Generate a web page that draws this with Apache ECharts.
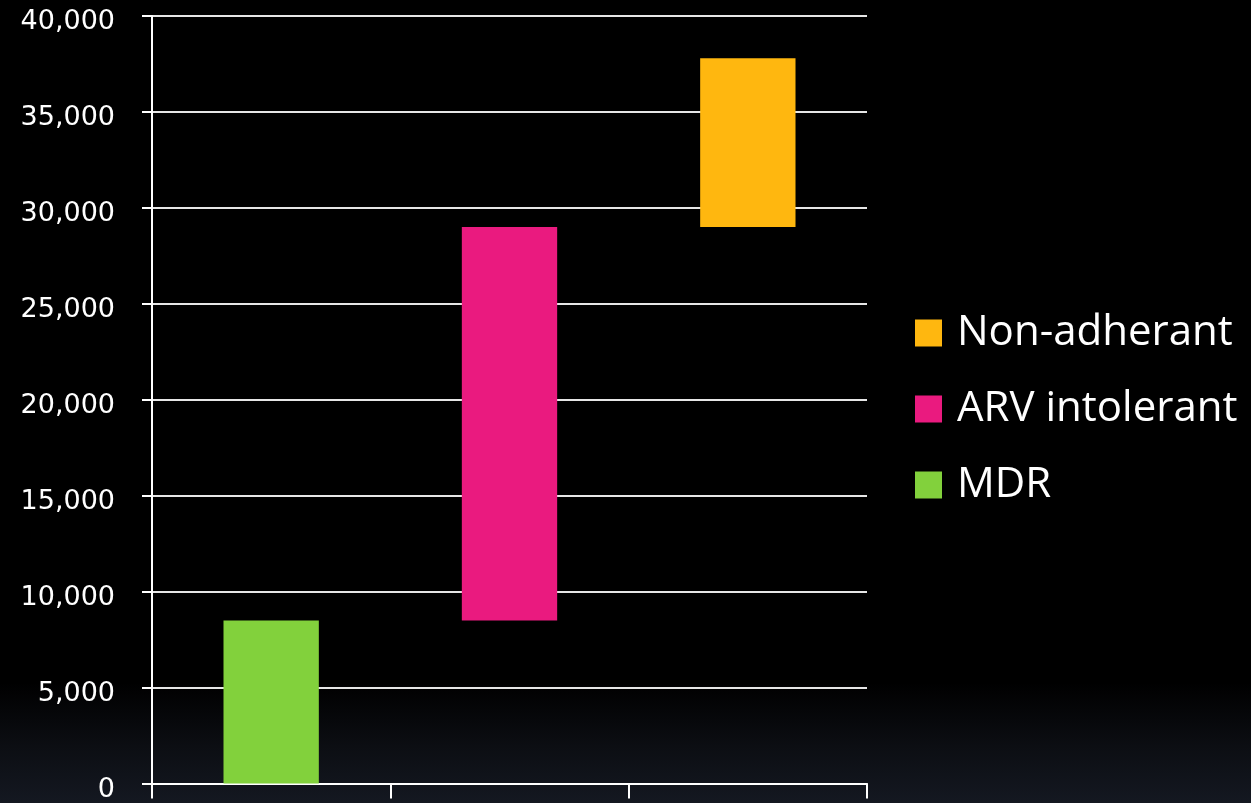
<!DOCTYPE html>
<html>
<head>
<meta charset="utf-8">
<style>
html,body{margin:0;padding:0;background:#000;}
#chart{width:1251px;height:803px;}
</style>
<script src="https://cdn.jsdelivr.net/npm/echarts@6/dist/echarts.min.js"></script>
</head>
<body>
<div id="chart"></div>
<script>
// Data
var categories = ['MDR', 'ARV intolerant', 'Non-adherant'];
var seriesNames = ['MDR', 'ARV intolerant', 'Non-adherant'];
var mdrValues = [8500, '-', '-'];
var arvValues = ['-', 20500, '-'];
var nonAdhValues = ['-', '-', 8800];
var baseValues = [0, 8500, 29000];
var yTicks = [0, 5000, 10000, 15000, 20000, 25000, 30000, 35000, 40000];
var legendOrder = ['Non-adherant', 'ARV intolerant', 'MDR'];

var colors = {'MDR': '#82d13c', 'ARV intolerant': '#ea1a7f', 'Non-adherant': '#ffb70f'};

var chart = echarts.init(document.getElementById('chart'));
function fmt(v){ return '{v|' + v.toString().replace(/\B(?=(\d{3})+(?!\d))/g, ',') + '}'; }

var valueSets = [mdrValues, arvValues, nonAdhValues];
var series = [{
  name: 'base', type: 'bar', stack: 'total', data: baseValues,
  itemStyle: {color: 'transparent'}, barWidth: '40%', silent: true
}];
seriesNames.forEach(function(n, i){
  series.push({
    name: n, type: 'bar', stack: 'total', data: valueSets[i],
    barWidth: '40%', itemStyle: {color: colors[n]}
  });
});

chart.setOption({
  backgroundColor: {
    type: 'linear', x: 0, y: 0, x2: 0, y2: 1,
    colorStops: [
      {offset: 0, color: '#000000'},
      {offset: 0.85, color: '#000000'},
      {offset: 0.93, color: '#0c0e13'},
      {offset: 1, color: '#141821'}
    ]
  },
  animation: false,
  grid: {left: 152, right: 384, top: 16, bottom: 18, containLabel: false},
  legend: {
    orient: 'vertical', left: 910, top: 307,
    data: legendOrder, icon: 'rect', itemWidth: 27, itemHeight: 27, itemGap: 34,
    textStyle: {color: '#ffffff', fontSize: 42, fontFamily: 'Open Sans', lineHeight: 40, padding: [0,0,0,10]},
    selectedMode: false
  },
  xAxis: {
    type: 'category', data: categories, boundaryGap: true,
    axisLine: {show: true, lineStyle: {color: '#ffffff', width: 2}},
    axisTick: {show: true, length: 15, inside: false, lineStyle: {color: '#ffffff', width: 2}},
    axisLabel: {show: false},
    splitLine: {show: false}
  },
  yAxis: {
    type: 'value', min: yTicks[0], max: yTicks[yTicks.length-1], interval: 5000,
    axisLine: {show: true, lineStyle: {color: '#ffffff', width: 2}},
    axisTick: {show: true, length: 10, lineStyle: {color: '#ffffff', width: 2}},
    axisLabel: {color: '#ffffff', fontSize: 27, fontFamily: 'DejaVu Sans', margin: 37, formatter: fmt,
      rich: {v: {color: '#ffffff', fontSize: 27, fontFamily: 'DejaVu Sans', padding: [12, 0, 0, 0]}}},
    splitLine: {show: true, lineStyle: {color: '#e6e6e6', width: 2}}
  },
  series: series
});
</script>
</body>
</html>
